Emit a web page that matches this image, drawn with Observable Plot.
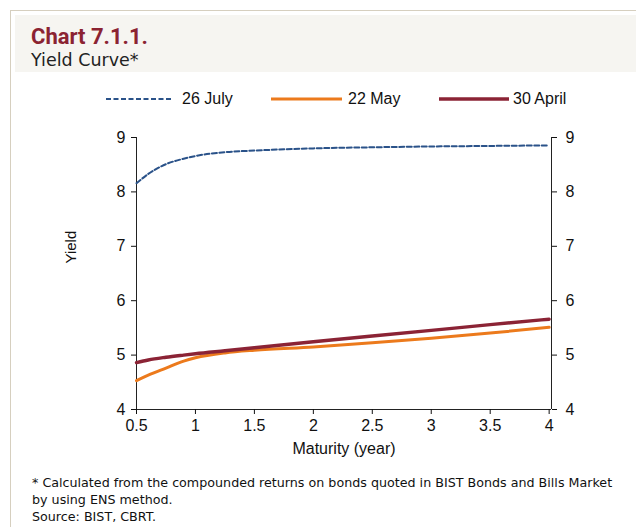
<!DOCTYPE html>
<html>
<head>
<meta charset="utf-8">
<script src="https://cdn.jsdelivr.net/npm/d3@7"></script>
<script src="https://cdn.jsdelivr.net/npm/@observablehq/plot@0.6"></script>
<style>
  html, body { margin: 0; padding: 0; background: #fff; width: 636px; height: 527px; overflow: hidden; position: relative; }
  #border { position: absolute; left: 10px; top: 10px; width: 640px; height: 540px; border-left: 1px solid #d6cfbf; border-top: 1px solid #d6cfbf; }
  #band { position: absolute; left: 15px; top: 15px; width: 621px; height: 57px; background: #f6f5f1; }
  #title { position: absolute; left: 31px; top: 24px; font-family: Roboto, "DejaVu Sans", sans-serif; font-weight: bold; font-size: 22px; line-height: 26px; color: #8b2332; }
  #subtitle { position: absolute; left: 31px; top: 49px; font-family: "DejaVu Sans", sans-serif; font-size: 17.5px; line-height: 22px; color: #222; }
  #legend { position: absolute; top: 90px; left: 0; font-family: "Liberation Sans", Arial, sans-serif; font-size: 16px; color: #111; }
  .li { position: absolute; white-space: nowrap; }
  .li svg { position: absolute; top: 0; }
  #chart { position: absolute; left: 0; top: 110px; }
  #foot { position: absolute; left: 32px; top: 474px; font-family: "DejaVu Sans", sans-serif; font-size: 12.7px; color: #111; line-height: 17px; white-space: nowrap; }
</style>
</head>
<body>
<div id="border"></div>
<div id="band"></div>
<div id="title">Chart 7.1.1.</div>
<div id="subtitle">Yield Curve*</div>
<div id="legend"></div>
<div id="chart"></div>
<div id="foot">* Calculated from the compounded returns on bonds quoted in BIST Bonds and Bills Market<br>by using ENS method.<br>Source: BIST, CBRT.</div>
<script>
const maturities = [0.5, 0.6, 0.75, 0.9, 1.0, 1.25, 1.5, 2.0, 2.5, 3.0, 3.5, 4.0];
const july26  = [8.16, 8.33, 8.51, 8.61, 8.66, 8.73, 8.76, 8.80, 8.82, 8.835, 8.845, 8.855];
const may22   = [4.53, 4.63, 4.76, 4.89, 4.95, 5.04, 5.09, 5.15, 5.225, 5.31, 5.405, 5.51];
const april30 = [4.86, 4.91, 4.96, 5.00, 5.025, 5.08, 5.135, 5.245, 5.35, 5.455, 5.56, 5.66];
const seriesNames = ["26 July", "22 May", "30 April"];
const seriesColors = ["#2a5289", "#ec7a1c", "#8b2335"];
const seriesDash = ["5,2.5", null, null];
const seriesWidth = [2, 3, 3.4];
const xTicks = [0.5, 1, 1.5, 2, 2.5, 3, 3.5, 4];
const yTicks = [4, 5, 6, 7, 8, 9];

const allSeries = [july26, may22, april30];
const rows = [];
allSeries.forEach((vals, s) => vals.forEach((v, i) => rows.push({series: seriesNames[s], m: maturities[i], y: v})));

const font = "Liberation Sans, Arial, sans-serif";
const marks = [
  Plot.ruleX([0.5, 4.02], {stroke: "#222", strokeWidth: 1}),
  Plot.ruleY([4], {stroke: "#222", strokeWidth: 1}),
  Plot.axisX({ticks: xTicks, tickSize: 5, tickFormat: d => String(d), tickPadding: 5, fontSize: 16, label: "Maturity (year)", labelAnchor: "center", labelArrow: "none", labelOffset: 44}),
  Plot.axisY({anchor: "left", ticks: yTicks, tickSize: 5, tickPadding: 6, fontSize: 16, tickFormat: d => String(d), label: null}),
  Plot.axisY({anchor: "right", ticks: yTicks, tickSize: 5, tickPadding: 9, fontSize: 16, tickFormat: d => String(d), label: null}),
  Plot.text(["Yield"], {frameAnchor: "left", dx: -65, dy: -10, rotate: -90, fontSize: 15, fill: "#111"})
];
// draw back to front: 22 May, 30 April, 26 July
[1, 2, 0].forEach(s => {
  marks.push(Plot.line(rows.filter(r => r.series === seriesNames[s]), {
    x: "m", y: "y", curve: "monotone-x", stroke: seriesColors[s], strokeWidth: seriesWidth[s],
    strokeDasharray: seriesDash[s]
  }));
});

const chart = Plot.plot({
  width: 636,
  height: 360,
  marginTop: 27,
  marginBottom: 61,
  marginLeft: 136,
  marginRight: 85,
  style: {fontFamily: font, color: "#111", background: "transparent"},
  x: {domain: [0.5, 4.02]},
  y: {domain: [4, 9]},
  marks
});
document.getElementById("chart").appendChild(chart);

// legend
const legendPos = [[106, 173, 182], [271, 342, 348], [439, 509, 513]];
const leg = document.getElementById("legend");
seriesNames.forEach((name, s) => {
  const [lx, ex, tx] = legendPos[s];
  const d = document.createElement("div");
  d.className = "li";
  d.style.left = lx + "px";
  const w = ex - lx;
  d.innerHTML = `<svg width="${w}" height="18" style="left:0"><line x1="0" x2="${w}" y1="9" y2="9" stroke="${seriesColors[s]}" stroke-width="${seriesWidth[s]}" ${seriesDash[s] ? `stroke-dasharray="${seriesDash[s]}"` : ""}/></svg><span style="position:absolute;left:${tx - lx}px;top:0px;line-height:18px">${name}</span>`;
  leg.appendChild(d);
});
</script>
</body>
</html>
